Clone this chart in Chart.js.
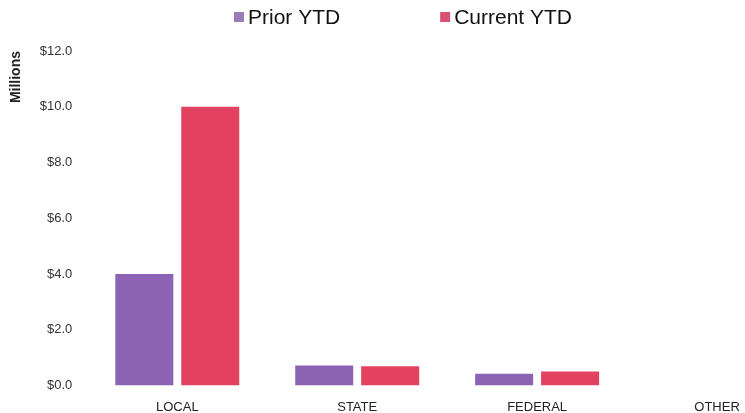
<!DOCTYPE html>
<html>
<head>
<meta charset="utf-8">
<script src="https://cdn.jsdelivr.net/npm/chart.js@4"></script>
<style>
  body { margin: 0; background: #fff; overflow: hidden; }
  #wrap { width: 812px; height: 413px; }
</style>
</head>
<body>
<div id="wrap"><canvas id="revenueChart"></canvas></div>
<script>
const categories = ['LOCAL', 'STATE', 'FEDERAL', 'OTHER'];
const priorYtd = [4.0, 0.71, 0.42, 0];
const currentYtd = [10.0, 0.69, 0.5, 0];
const yTicks = [0, 2, 4, 6, 8, 10, 12];

const FONT = "'Liberation Sans', Arial, sans-serif";

// legend drawn by hand so the two items can sit far apart
const wideLegend = {
    id: 'wideLegend',
    afterDraw(chart) {
        const ctx = chart.ctx;
        const items = chart.data.datasets.map(ds => ({ text: ds.label, color: ds.legendColor }));
        const box = 10, gap = 4, spacing = 100;
        ctx.save();
        ctx.font = '21px ' + FONT;
        const widths = items.map(it => ctx.measureText(it.text).width);
        let total = widths.reduce((a, w) => a + box + gap + w, 0) + spacing * (items.length - 1);
        let x = chart.width / 2 - total / 2 - 3;
        const y = 17;
        ctx.textBaseline = 'middle';
        items.forEach((it, i) => {
            ctx.fillStyle = it.color;
            ctx.fillRect(x, y - box / 2, box, box);
            ctx.fillStyle = '#111';
            ctx.fillText(it.text, x + box + gap, y + 1);
            x += box + gap + widths[i] + spacing;
        });
        ctx.restore();
    }
};

new Chart(document.getElementById('revenueChart'), {
    type: 'bar',
    data: {
        labels: categories,
        datasets: [{
            label: 'Prior YTD',
            data: priorYtd,
            backgroundColor: '#8c63b4',
            legendColor: '#9a7cb8',
            categoryPercentage: 0.733,
            barPercentage: 0.88
        }, {
            label: 'Current YTD',
            data: currentYtd,
            backgroundColor: '#e2415f',
            legendColor: '#d95273',
            categoryPercentage: 0.733,
            barPercentage: 0.88
        }]
    },
    options: {
        responsive: true,
        maintainAspectRatio: false,
        animation: false,
        layout: { padding: { top: 51, left: 6, right: 5, bottom: -16 } },
        plugins: {
            legend: { display: false },
            tooltip: { enabled: false }
        },
        scales: {
            x: {
                grid: { display: false, drawTicks: false },
                border: { display: false },
                ticks: {
                    color: '#222',
                    padding: 14,
                    font: { family: FONT, size: 13 }
                }
            },
            y: {
                min: 0,
                max: 12,
                afterBuildTicks(axis) {
                    axis.ticks = yTicks.map(v => ({ value: v }));
                },
                grid: { display: false, drawTicks: false },
                border: { display: false },
                ticks: {
                    color: '#333',
                    padding: 15,
                    font: { family: FONT, size: 13 },
                    callback: v => '$' + Number(v).toFixed(1)
                },
                title: {
                    display: true,
                    text: 'Millions',
                    align: 'end',
                    color: '#222',
                    padding: { top: 2, bottom: 0 },
                    font: { family: FONT, size: 14, weight: 'bold' }
                }
            }
        }
    },
    plugins: [wideLegend]
});
</script>
</body>
</html>
